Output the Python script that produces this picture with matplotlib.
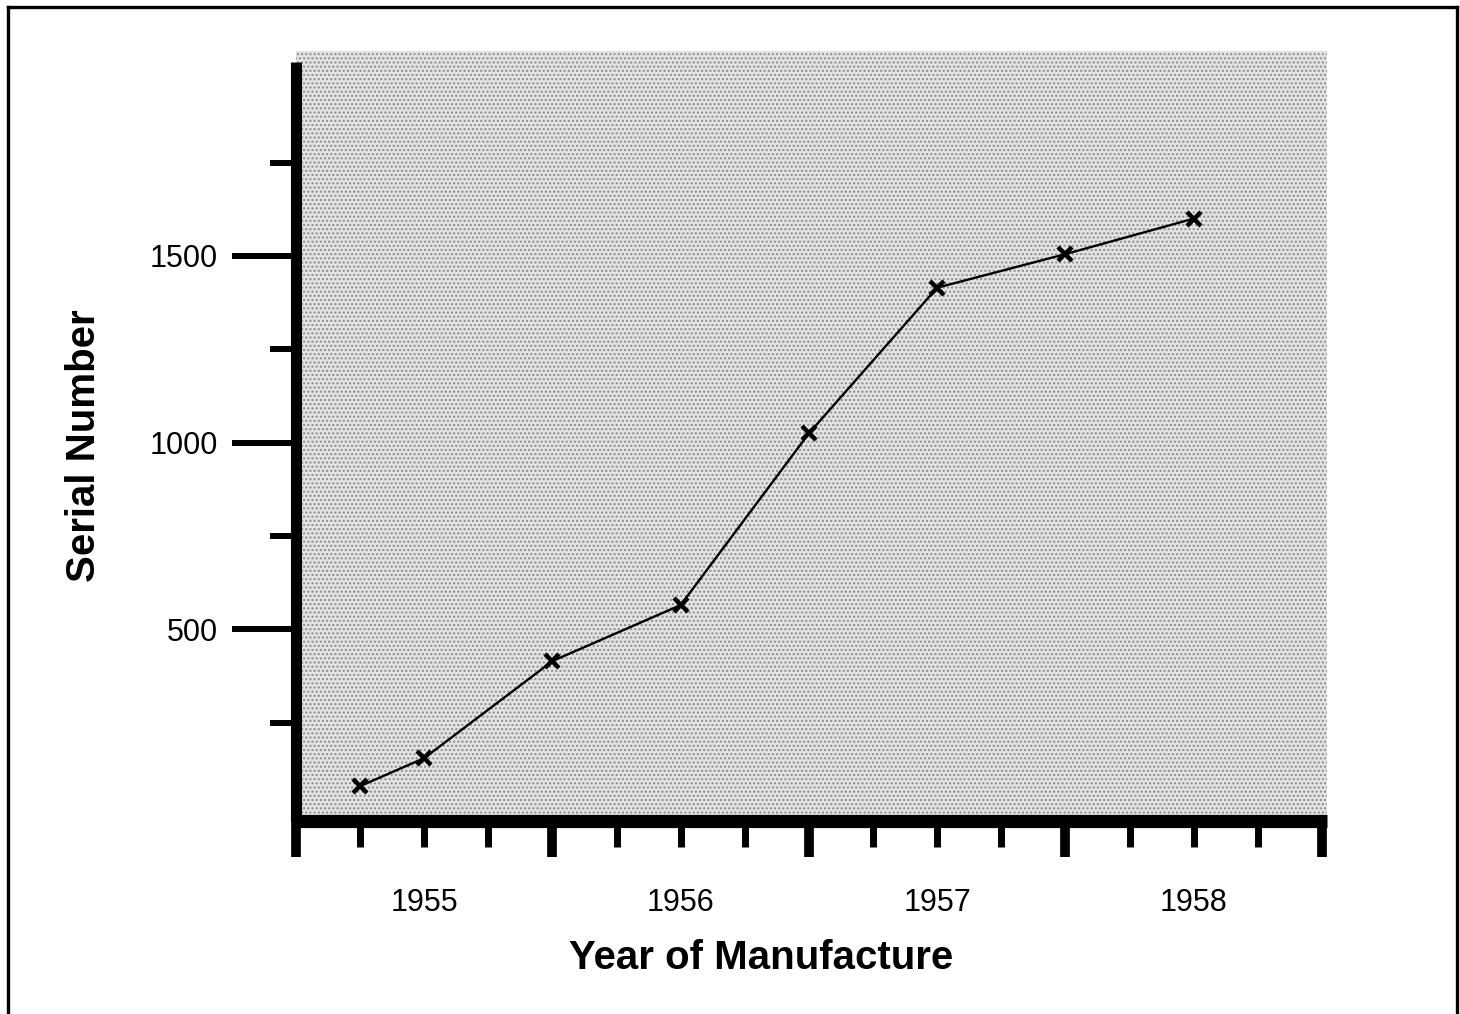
import matplotlib
matplotlib.use("Agg")
import matplotlib.pyplot as plt
from matplotlib.ticker import FixedLocator, MultipleLocator, FuncFormatter, NullFormatter
from matplotlib.patches import Rectangle
from matplotlib.lines import Line2D

# ---- data ----
years = [1954.75, 1955.0, 1955.5, 1956.0, 1956.5, 1957.0, 1957.5, 1958.0]
serials = [80, 155, 415, 565, 1025, 1415, 1505, 1600]
y_major = [500, 1000, 1500]
y_minor = [250, 750, 1250, 1750]
x_half = [1954.5, 1955.5, 1956.5, 1957.5, 1958.5]
x_label = "Year of Manufacture"
y_label = "Serial Number"

plt.rcParams['font.family'] = ['Liberation Sans', 'DejaVu Sans']

W, H = 1460, 1014
fig = plt.figure(figsize=(W / 100, H / 100), dpi=100)

def fx(px):
    return px / W

def fy(py):
    return 1 - py / H

left, right, top, bottom = 296, 1327, 51, 821
ax = fig.add_axes([fx(left), fy(bottom), fx(right - left), (bottom - top) / H])

ax.set_xlim(1954.5, 1958.52)
ax.set_ylim(-13.4, 2049)

# stippled background
ax.set_facecolor('none')
bg = Rectangle((0, 0), 1, 1, transform=ax.transAxes, facecolor='#e3e3e3',
               edgecolor='#8c8c8c', hatch='....', lw=0, zorder=0)
ax.add_patch(bg)

ax.plot(years, serials, color='black', lw=1.7, marker='x', markersize=10.5,
        markeredgewidth=3.2, zorder=3, clip_on=False)

# spines
for s in ['top', 'right']:
    ax.spines[s].set_visible(False)
ax.spines['left'].set_linewidth(8)
ax.spines['bottom'].set_linewidth(9.5)
ax.spines['left'].set_bounds(-13.4, 2020)
ax.spines['left'].set_capstyle('butt')
ax.spines['bottom'].set_capstyle('butt')

# y ticks
ax.yaxis.set_major_locator(FixedLocator(y_major))
ax.yaxis.set_minor_locator(FixedLocator(y_minor))
ax.yaxis.set_minor_formatter(NullFormatter())
ax.tick_params(axis='y', which='major', direction='out', length=46, width=4.3,
               pad=10, labelsize=22)
ax.tick_params(axis='y', which='minor', direction='out', length=19, width=4.3)

# x ticks: thick half-year ticks, thinner quarter-year ticks, labels at years
ax.xaxis.set_major_locator(FixedLocator(x_half))
ax.xaxis.set_major_formatter(NullFormatter())
ax.xaxis.set_minor_locator(MultipleLocator(0.25))

def yr_fmt(v, pos):
    if abs(v - round(v)) < 1e-6:
        return str(int(round(v)))
    return ''

ax.xaxis.set_minor_formatter(FuncFormatter(yr_fmt))
ax.tick_params(axis='x', which='major', direction='out', length=26, width=7)
ax.tick_params(axis='x', which='minor', direction='out', length=19, width=5,
               pad=29, labelsize=22)

# axis titles
fig.text(fx(761), fy(958), x_label, fontsize=29, fontweight='bold',
         ha='center', va='center')
fig.text(fx(84), fy(446), y_label, fontsize=29, fontweight='bold',
         ha='center', va='center', rotation=90)

# outer frame (left, top, right)
lw = 2.4
fig.add_artist(Line2D([fx(8), fx(8)], [fy(1014), fy(7)], color='black', lw=lw))
fig.add_artist(Line2D([fx(8), fx(1457)], [fy(7), fy(7)], color='black', lw=lw))
fig.add_artist(Line2D([fx(1457), fx(1457)], [fy(7), fy(1014)], color='black', lw=lw))

fig.savefig('out.png', dpi=100, facecolor='white')
